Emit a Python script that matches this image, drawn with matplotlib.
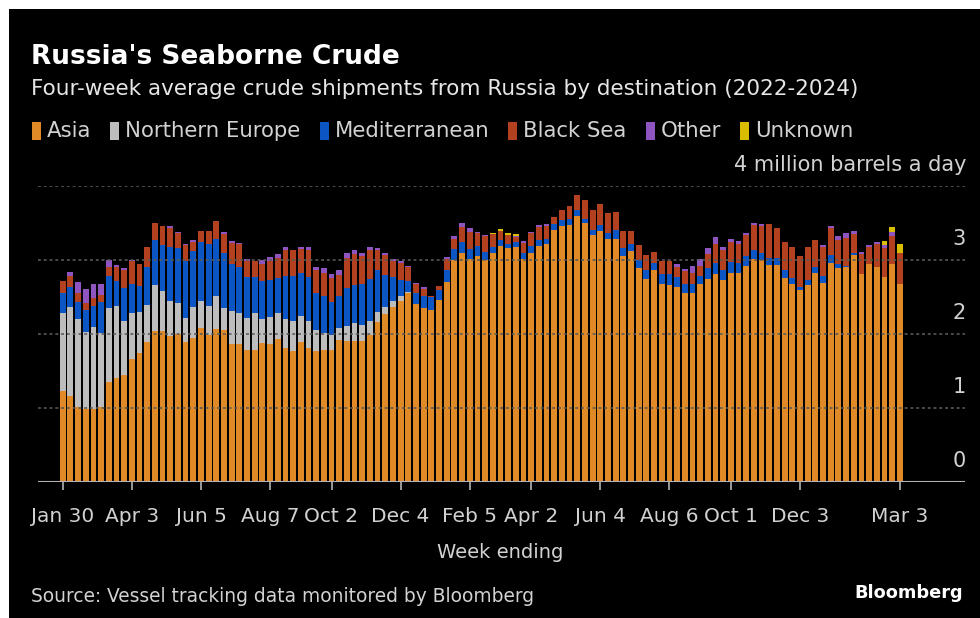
import matplotlib
matplotlib.use("Agg")
import matplotlib.pyplot as plt
from matplotlib.patches import Rectangle
import numpy as np
import pandas as pd

# weekly data, Jan 30 2022 .. Mar 3 2024 (million barrels a day)
weeks = pd.date_range("2022-01-30", "2024-03-03", freq="W-SUN")

asia = [
    1.23, 1.16, 1.02, 0.98, 0.99, 1.02, 1.35, 1.41, 1.44, 1.66,
    1.75, 1.89, 2.04, 2.04, 1.97, 2.00, 1.89, 1.95, 2.08, 1.98,
    2.07, 2.05, 1.87, 1.86, 1.78, 1.79, 1.88, 1.86, 1.93, 1.81,
    1.77, 1.89, 1.81, 1.77, 1.79, 1.79, 1.92, 1.90, 1.91, 1.91,
    1.98, 2.16, 2.27, 2.36, 2.44, 2.55, 2.41, 2.35, 2.32, 2.46,
    2.70, 3.00, 3.09, 3.02, 3.06, 3.00, 3.09, 3.19, 3.16, 3.17,
    3.01, 3.09, 3.19, 3.21, 3.41, 3.46, 3.47, 3.59, 3.50, 3.34,
    3.39, 3.29, 3.29, 3.05, 3.12, 2.89, 2.74, 2.86, 2.68, 2.66,
    2.64, 2.55, 2.55, 2.67, 2.74, 2.81, 2.73, 2.82, 2.83, 2.92,
    3.02, 3.00, 2.93, 2.93, 2.76, 2.67, 2.59, 2.66, 2.82, 2.69,
    2.96, 2.89, 2.90, 3.07, 2.81, 2.94, 2.91, 2.77, 2.94, 2.67,
]
northern_europe = [
    1.05, 1.21, 1.18, 1.05, 1.10, 0.99, 1.00, 0.97, 0.74, 0.62,
    0.55, 0.50, 0.62, 0.54, 0.47, 0.42, 0.32, 0.41, 0.36, 0.40,
    0.45, 0.30, 0.44, 0.43, 0.44, 0.49, 0.32, 0.37, 0.35, 0.39,
    0.41, 0.36, 0.36, 0.29, 0.23, 0.19, 0.16, 0.21, 0.24, 0.21,
    0.19, 0.14, 0.09, 0.09, 0.07, 0.02, 0, 0, 0, 0,
    0, 0, 0, 0, 0, 0, 0, 0, 0, 0,
    0, 0, 0, 0, 0, 0, 0, 0, 0, 0,
    0, 0, 0, 0, 0, 0, 0, 0, 0, 0,
    0, 0, 0, 0, 0, 0, 0, 0, 0, 0,
    0, 0, 0, 0, 0, 0, 0, 0, 0, 0,
    0, 0, 0, 0, 0, 0, 0, 0, 0, 0,
]
mediterranean = [
    0.28, 0.26, 0.23, 0.29, 0.29, 0.42, 0.44, 0.34, 0.44, 0.40,
    0.35, 0.51, 0.61, 0.62, 0.73, 0.74, 0.78, 0.76, 0.80, 0.84,
    0.76, 0.75, 0.64, 0.61, 0.55, 0.49, 0.52, 0.50, 0.48, 0.59,
    0.61, 0.58, 0.60, 0.50, 0.50, 0.45, 0.43, 0.51, 0.51, 0.55,
    0.58, 0.56, 0.44, 0.32, 0.22, 0.14, 0.15, 0.17, 0.18, 0.14,
    0.17, 0.15, 0.15, 0.13, 0.13, 0.11, 0.09, 0.08, 0.06, 0.07,
    0.08, 0.10, 0.08, 0.08, 0.07, 0.08, 0.08, 0.09, 0.06, 0.06,
    0.08, 0.08, 0.11, 0.11, 0.10, 0.11, 0.13, 0.10, 0.13, 0.15,
    0.13, 0.13, 0.13, 0.12, 0.15, 0.15, 0.14, 0.15, 0.13, 0.13,
    0.11, 0.09, 0.10, 0.10, 0.10, 0.09, 0.05, 0.07, 0.09, 0.09,
    0.11, 0.06, 0.02, 0.02, 0, 0, 0, 0, 0, 0,
]
black_sea = [
    0.16, 0.16, 0.13, 0.10, 0.10, 0.10, 0.12, 0.18, 0.25, 0.30,
    0.29, 0.28, 0.23, 0.26, 0.26, 0.20, 0.21, 0.13, 0.15, 0.17,
    0.25, 0.25, 0.28, 0.31, 0.22, 0.22, 0.23, 0.26, 0.27, 0.34,
    0.35, 0.32, 0.36, 0.30, 0.30, 0.33, 0.29, 0.41, 0.42, 0.38,
    0.39, 0.27, 0.27, 0.22, 0.23, 0.19, 0.11, 0.09, 0.01, 0.05,
    0.15, 0.14, 0.21, 0.23, 0.17, 0.21, 0.17, 0.12, 0.12, 0.07,
    0.14, 0.17, 0.18, 0.17, 0.10, 0.14, 0.18, 0.20, 0.25, 0.27,
    0.28, 0.27, 0.25, 0.23, 0.17, 0.20, 0.20, 0.15, 0.17, 0.17,
    0.14, 0.17, 0.15, 0.13, 0.19, 0.25, 0.27, 0.27, 0.26, 0.29,
    0.34, 0.37, 0.45, 0.40, 0.39, 0.42, 0.41, 0.44, 0.36, 0.39,
    0.36, 0.32, 0.38, 0.26, 0.27, 0.23, 0.30, 0.39, 0.39, 0.42,
]
other = [
    0, 0.05, 0.14, 0.19, 0.19, 0.14, 0.09, 0.03, 0.02, 0.02,
    0, 0, 0, 0, 0.03, 0.02, 0.02, 0.02, 0, 0,
    0, 0.03, 0.03, 0.02, 0.03, 0, 0.05, 0.05, 0.05, 0.05,
    0, 0.03, 0.05, 0.05, 0.07, 0.05, 0.07, 0.07, 0.05, 0.05,
    0.03, 0.03, 0.02, 0.02, 0.02, 0.02, 0.02, 0.02, 0, 0,
    0.02, 0.03, 0.05, 0.05, 0.02, 0.02, 0, 0, 0, 0.01,
    0.02, 0.02, 0.02, 0.02, 0, 0, 0, 0, 0, 0,
    0, 0, 0, 0, 0, 0, 0, 0, 0, 0,
    0.04, 0.03, 0.09, 0.09, 0.08, 0.10, 0.04, 0.05, 0.04, 0.03,
    0.03, 0.02, 0, 0, 0, 0, 0, 0, 0, 0.03,
    0.03, 0.06, 0.06, 0.04, 0.03, 0.03, 0.03, 0.04, 0.05, 0,
]
unknown = [0] * 56 + [0.02, 0.03, 0.02, 0.03] + [0] * 47 + [0.05, 0.07, 0.13]

series_names = ["Asia", "Northern Europe", "Mediterranean", "Black Sea", "Other", "Unknown"]
series_colors = ["#df8a26", "#bdbdbd", "#0b55c4", "#b3401e", "#8e55c0", "#d8bd00"]

tick_dates = ["2022-01-30", "2022-04-03", "2022-06-05", "2022-08-07", "2022-10-02",
              "2022-12-04", "2023-02-05", "2023-04-02", "2023-06-04", "2023-08-06",
              "2023-10-01", "2023-12-03", "2024-03-03"]
tick_labels = ["Jan 30", "Apr 3", "Jun 5", "Aug 7", "Oct 2", "Dec 4", "Feb 5",
               "Apr 2", "Jun 4", "Aug 6", "Oct 1", "Dec 3", "Mar 3"]

W, H = 980, 618
FONT = "DejaVu Sans"


def fx(px):
    return px / W


def fy(py):
    return 1 - py / H


fig = plt.figure(figsize=(W / 100, H / 100), dpi=100)
fig.patch.set_facecolor("black")
# screenshot has a thin white strip on the left and top
fig.patches.append(Rectangle((0, 0), fx(9), 1, transform=fig.transFigure,
                             facecolor="white", edgecolor="none", zorder=-5))
fig.patches.append(Rectangle((0, fy(9)), 1, 1 - fy(9), transform=fig.transFigure,
                             facecolor="white", edgecolor="none", zorder=-5))

# axes: x from 38px to 965px, y: 0 at 482px, 4 at 186px
ax = fig.add_axes([fx(38), fy(482), fx(965) - fx(38), fy(186) - fy(482)])
ax.set_zorder(2)
ax.set_facecolor("none")
x = np.arange(len(weeks))
bottom = np.zeros(len(weeks))
for vals, col in zip([asia, northern_europe, mediterranean, black_sea, other, unknown],
                     series_colors):
    vals = np.array(vals, dtype=float)
    ax.bar(x, vals, bottom=bottom, width=0.76, color=col, edgecolor="none",
           zorder=2, clip_on=False)
    bottom += vals

px_per_week = 7.68
ax.set_xlim((38 - 62.7) / px_per_week, (965 - 62.7) / px_per_week)
ax.set_ylim(0, 4)
for v in [1, 2, 3, 4]:
    ax.axhline(v, color="#5a5a5a", lw=1.3, ls=(0, (1.6, 1.6)), zorder=3, alpha=0.9)
ax.axhline(0, color="#b4b4b4", lw=1.5, zorder=4)
for s in ax.spines.values():
    s.set_visible(False)

week_index = {d: i for i, d in enumerate(weeks)}
tick_pos = [week_index[pd.Timestamp(d)] for d in tick_dates]
ax.set_xticks(tick_pos)
ax.set_xticklabels(tick_labels)
ax.tick_params(axis="x", length=6, width=1.2, color="#b4b4b4", pad=12,
               labelsize=14.5, labelcolor="#d2d2d2")
ax.set_yticks([])
for lab in ax.get_xticklabels():
    lab.set_family(FONT)

# y labels on the right, above their gridlines
for v in [0, 1, 2, 3]:
    fig.text(fx(966), fy(482 - 74 * v - 21), str(v), ha="right", va="center",
             fontsize=15, color="#d2d2d2", family=FONT)
fig.text(fx(966), fy(165), "4 million barrels a day", ha="right", va="center",
         fontsize=15, color="#d2d2d2", family=FONT)

# header
fig.text(fx(31), fy(57), "Russia's Seaborne Crude", ha="left", va="center",
         fontsize=19, fontweight="bold", color="white", family=FONT)
fig.text(fx(31), fy(89), "Four-week average crude shipments from Russia by destination (2022-2024)",
         ha="left", va="center", fontsize=15.5, color="#e6e6e6", family=FONT)

# legend row
renderer = fig.canvas.get_renderer()
lx = 32
for name, col in zip(series_names, series_colors):
    fig.patches.append(Rectangle((fx(lx), fy(140)), fx(9), fy(122) - fy(140),
                                 transform=fig.transFigure, facecolor=col,
                                 edgecolor="none", zorder=3))
    t = fig.text(fx(lx + 15), fy(131), name, ha="left", va="center",
                 fontsize=15.3, color="#d2d2d2", family=FONT)
    bb = t.get_window_extent(renderer)
    lx = bb.x1 + 19

# footer
fig.text(fx(500), fy(553), "Week ending", ha="center", va="center",
         fontsize=14, color="#d2d2d2", family=FONT)
fig.text(fx(31), fy(596), "Source: Vessel tracking data monitored by Bloomberg",
         ha="left", va="center", fontsize=13.4, color="#d2d2d2", family=FONT)
fig.text(fx(963), fy(593), "Bloomberg", ha="right", va="center",
         fontsize=12.8, fontweight="bold", color="white", family=FONT)

fig.savefig("out.png", dpi=100, facecolor=fig.get_facecolor())
